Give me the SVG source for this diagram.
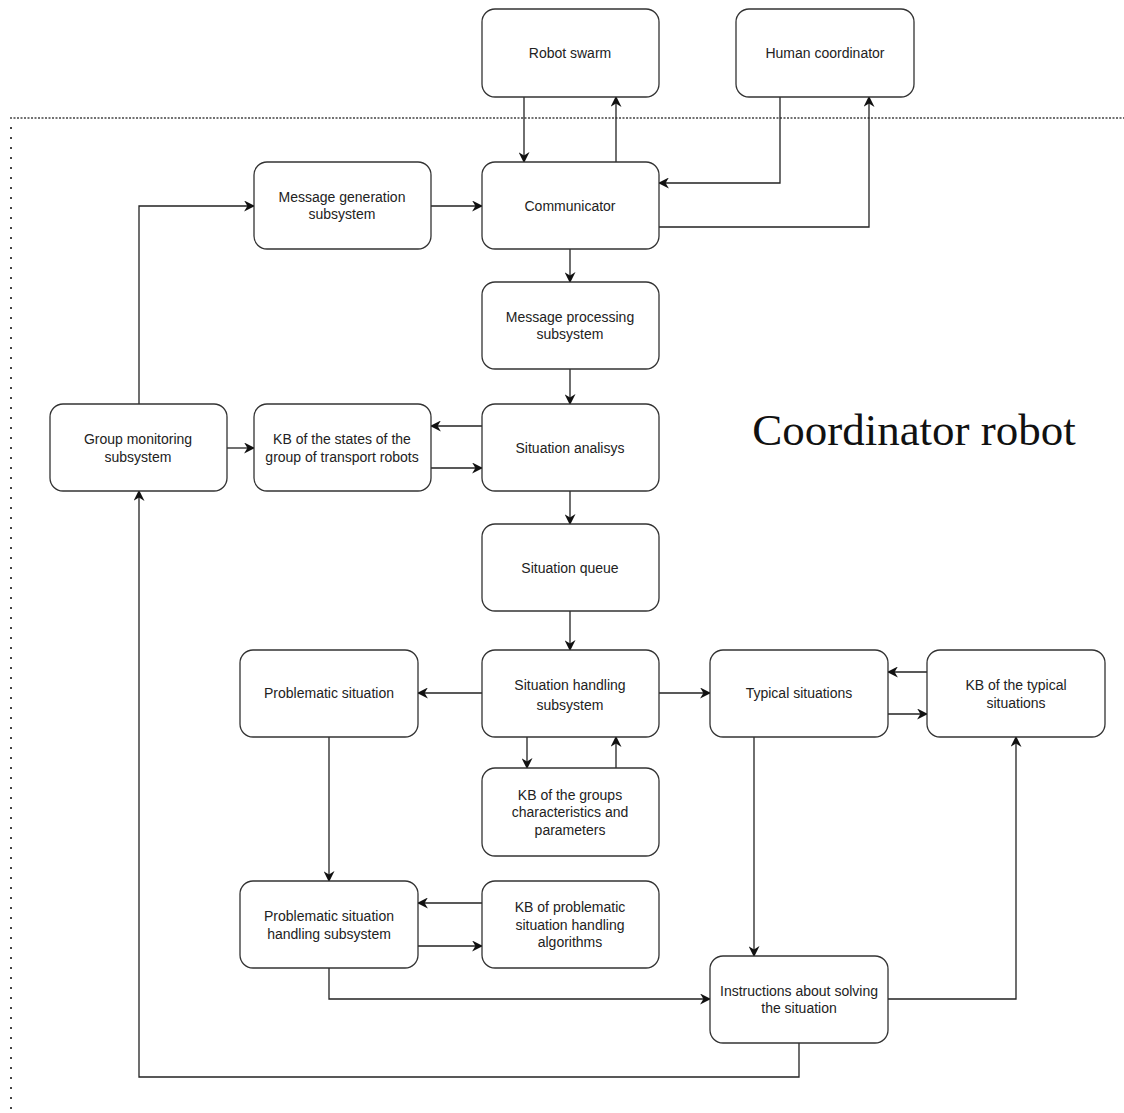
<svg xmlns="http://www.w3.org/2000/svg" width="1124" height="1113" viewBox="0 0 1124 1113">
<style>
.n{fill:#fff;stroke:#333;stroke-width:1.3}
.t{font-family:"Liberation Sans",Arial,sans-serif;font-size:14px;fill:#222;text-anchor:middle}
.c{fill:none;stroke:#222;stroke-width:1.3}
.title{font-family:"Liberation Serif","Times New Roman",serif;font-size:45px;fill:#111;text-anchor:middle}
</style>
<defs>
<marker id="a" viewBox="0 0 10 10" refX="9" refY="5" markerWidth="11" markerHeight="11" markerUnits="userSpaceOnUse" orient="auto">
<path d="M0,0 L10,5 L0,10 L3,5 Z" fill="#111"/>
</marker>
</defs>
<rect width="1124" height="1113" fill="#fff"/>
<g id="boundary">
<line x1="10" y1="118" x2="1124" y2="118" stroke="#444" stroke-width="1.3" stroke-dasharray="2 1.5"/>
<line x1="11" y1="127" x2="11" y2="1113" stroke="#444" stroke-width="2" stroke-dasharray="2 8"/>
</g>
<text class="title" x="914" y="445">Coordinator robot</text>
<g id="connectors">
<path class="c" marker-end="url(#a)" d="M524,97 V162"/>
<path class="c" marker-end="url(#a)" d="M616,162 V97"/>
<path class="c" marker-end="url(#a)" d="M780,97 V183 H659"/>
<path class="c" marker-end="url(#a)" d="M659,227 H869 V97"/>
<path class="c" marker-end="url(#a)" d="M431,206 H482"/>
<path class="c" marker-end="url(#a)" d="M139,404 V206 H254"/>
<path class="c" marker-end="url(#a)" d="M570,249 V282"/>
<path class="c" marker-end="url(#a)" d="M570,369 V404"/>
<path class="c" marker-end="url(#a)" d="M227,448 H254"/>
<path class="c" marker-end="url(#a)" d="M482,426 H431"/>
<path class="c" marker-end="url(#a)" d="M431,468 H482"/>
<path class="c" marker-end="url(#a)" d="M570,491 V524"/>
<path class="c" marker-end="url(#a)" d="M570,611 V650"/>
<path class="c" marker-end="url(#a)" d="M482,693 H418"/>
<path class="c" marker-end="url(#a)" d="M659,693 H710"/>
<path class="c" marker-end="url(#a)" d="M927,672 H888"/>
<path class="c" marker-end="url(#a)" d="M888,714 H927"/>
<path class="c" marker-end="url(#a)" d="M527,737 V768"/>
<path class="c" marker-end="url(#a)" d="M616,768 V737"/>
<path class="c" marker-end="url(#a)" d="M329,737 V881"/>
<path class="c" marker-end="url(#a)" d="M482,903 H418"/>
<path class="c" marker-end="url(#a)" d="M418,946 H482"/>
<path class="c" marker-end="url(#a)" d="M754,737 V956"/>
<path class="c" marker-end="url(#a)" d="M329,968 V999 H710"/>
<path class="c" marker-end="url(#a)" d="M888,999 H1016 V737"/>
<path class="c" marker-end="url(#a)" d="M799,1043 V1077 H139 V491"/>
</g>
<g id="robot-swarm"><rect class="n" x="482" y="9" width="177" height="88" rx="13"/><text class="t" x="570" y="58">Robot swarm</text></g>
<g id="human-coordinator"><rect class="n" x="736" y="9" width="178" height="88" rx="13"/><text class="t" x="825" y="58">Human coordinator</text></g>
<g id="message-generation"><rect class="n" x="254" y="162" width="177" height="87" rx="13"/><text class="t" x="342" y="202">Message generation</text><text class="t" x="342" y="219">subsystem</text></g>
<g id="communicator"><rect class="n" x="482" y="162" width="177" height="87" rx="13"/><text class="t" x="570" y="211">Communicator</text></g>
<g id="message-processing"><rect class="n" x="482" y="282" width="177" height="87" rx="13"/><text class="t" x="570" y="322">Message processing</text><text class="t" x="570" y="339">subsystem</text></g>
<g id="group-monitoring"><rect class="n" x="50" y="404" width="177" height="87" rx="13"/><text class="t" x="138" y="444">Group monitoring</text><text class="t" x="138" y="462">subsystem</text></g>
<g id="kb-states"><rect class="n" x="254" y="404" width="177" height="87" rx="13"/><text class="t" x="342" y="444">KB of the states of the</text><text class="t" x="342" y="462">group of transport robots</text></g>
<g id="situation-analysis"><rect class="n" x="482" y="404" width="177" height="87" rx="13"/><text class="t" x="570" y="453">Situation analisys</text></g>
<g id="situation-queue"><rect class="n" x="482" y="524" width="177" height="87" rx="13"/><text class="t" x="570" y="573">Situation queue</text></g>
<g id="problematic-situation"><rect class="n" x="240" y="650" width="178" height="87" rx="13"/><text class="t" x="329" y="698">Problematic situation</text></g>
<g id="situation-handling"><rect class="n" x="482" y="650" width="177" height="87" rx="13"/><text class="t" x="570" y="690">Situation handling</text><text class="t" x="570" y="710">subsystem</text></g>
<g id="typical-situations"><rect class="n" x="710" y="650" width="178" height="87" rx="13"/><text class="t" x="799" y="698">Typical situations</text></g>
<g id="kb-typical"><rect class="n" x="927" y="650" width="178" height="87" rx="13"/><text class="t" x="1016" y="690">KB of the typical</text><text class="t" x="1016" y="708">situations</text></g>
<g id="kb-groups"><rect class="n" x="482" y="768" width="177" height="88" rx="13"/><text class="t" x="570" y="800">KB of the groups</text><text class="t" x="570" y="817">characteristics and</text><text class="t" x="570" y="835">parameters</text></g>
<g id="problematic-handling"><rect class="n" x="240" y="881" width="178" height="87" rx="13"/><text class="t" x="329" y="921">Problematic situation</text><text class="t" x="329" y="939">handling subsystem</text></g>
<g id="kb-problematic"><rect class="n" x="482" y="881" width="177" height="87" rx="13"/><text class="t" x="570" y="912">KB of problematic</text><text class="t" x="570" y="930">situation handling</text><text class="t" x="570" y="947">algorithms</text></g>
<g id="instructions"><rect class="n" x="710" y="956" width="178" height="87" rx="13"/><text class="t" x="799" y="996">Instructions about solving</text><text class="t" x="799" y="1013">the situation</text></g>
</svg>
